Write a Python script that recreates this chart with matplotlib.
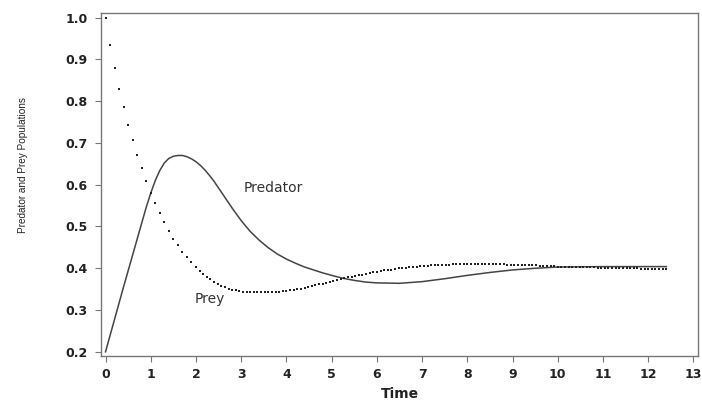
import matplotlib.pyplot as plt
import numpy as np

# prey: every 0.1 time units up to t = 1.9, then the solver steps get finer (~0.08)
prey_early = [1.000, 0.935, 0.879, 0.829, 0.785, 0.743, 0.706, 0.671, 0.640, 0.610,
              0.581, 0.557, 0.533, 0.510, 0.490, 0.471, 0.455, 0.440, 0.426, 0.414]
prey_late = [0.403, 0.394, 0.387, 0.380, 0.374, 0.368, 0.363, 0.358, 0.354, 0.351,
             0.349, 0.347, 0.345, 0.344, 0.343, 0.342, 0.342, 0.342, 0.342, 0.342,
             0.342, 0.343, 0.343, 0.344, 0.345, 0.346, 0.347, 0.348, 0.350, 0.351,
             0.353, 0.355, 0.357, 0.359, 0.362, 0.363, 0.365, 0.367, 0.369, 0.371,
             0.374, 0.376, 0.378, 0.380, 0.381, 0.383, 0.385, 0.387, 0.389, 0.390,
             0.392, 0.393, 0.395, 0.396, 0.397, 0.398, 0.400, 0.401, 0.401, 0.402,
             0.403, 0.404, 0.405, 0.405, 0.406, 0.407, 0.407, 0.408, 0.408, 0.409,
             0.409, 0.410, 0.410, 0.410, 0.410, 0.411,
             0.411, 0.411, 0.411, 0.411, 0.411, 0.410, 0.410, 0.410, 0.410, 0.410,
             0.409, 0.409,
             0.409, 0.409, 0.408, 0.408, 0.408, 0.407, 0.407, 0.406, 0.406, 0.405,
             0.405, 0.405, 0.404,
             0.404, 0.404, 0.404, 0.403, 0.403, 0.403, 0.403, 0.402, 0.402, 0.402,
             0.401, 0.401,
             0.401, 0.401, 0.401, 0.401, 0.400, 0.400, 0.400, 0.400, 0.400, 0.400,
             0.399, 0.399, 0.399,
             0.399, 0.399, 0.398, 0.398, 0.398]
prey_t = np.concatenate([np.linspace(0, 1.9, len(prey_early)),
                         np.linspace(2.0, 12.4, len(prey_late))])
prey = prey_early + prey_late

pred_t = [0.0, 0.2, 0.4, 0.6, 0.8, 0.9, 1.0, 1.1, 1.2, 1.3, 1.4, 1.5, 1.6, 1.7,
          1.8, 1.9, 2.0, 2.1, 2.2, 2.3, 2.4, 2.6, 2.8, 3.0, 3.2, 3.4, 3.6, 3.8,
          4.0, 4.2, 4.4, 4.6, 4.8, 5.0, 5.25, 5.5, 5.75, 6.0, 6.5, 7.0, 7.5, 8.0,
          8.5, 9.0, 9.5, 10.0, 11.0, 12.0, 12.4]
predator = [0.200, 0.278, 0.356, 0.432, 0.508, 0.546, 0.580, 0.610, 0.634, 0.652,
            0.663, 0.668, 0.670, 0.670, 0.667, 0.662, 0.655, 0.646, 0.635, 0.622,
            0.608, 0.576, 0.544, 0.514, 0.488, 0.467, 0.449, 0.434,
            0.422, 0.412, 0.403, 0.396, 0.389, 0.383, 0.376, 0.371, 0.367, 0.365,
            0.364, 0.368, 0.375, 0.383, 0.390, 0.396, 0.400, 0.403, 0.404, 0.404,
            0.404]

x_ticks = list(range(0, 14))
y_ticks = [0.2, 0.3, 0.4, 0.5, 0.6, 0.7, 0.8, 0.9, 1.0]

fig = plt.figure(figsize=(7.02, 4.01), dpi=100)
ax = fig.add_axes([101 / 702, 1 - 356 / 401, 597 / 702, 343 / 401])

ax.plot(pred_t, predator, color='#444444', linewidth=1.1)
ax.plot(prey_t, prey, linestyle='none', marker='s', markersize=1.7,
        color='#222222', markeredgewidth=0)

ax.set_xlim(-0.1, 13.1)
ax.set_ylim(0.19, 1.011)
ax.set_xticks(x_ticks)
ax.set_yticks(y_ticks)
ax.set_yticklabels(['%.1f' % v for v in y_ticks])

for s in ax.spines.values():
    s.set_color('#777777')
    s.set_linewidth(1.0)
ax.tick_params(direction='out', length=4.5, width=0.8, color='#777777',
               labelsize=9, labelcolor='#222222')
ax.tick_params(axis='y', pad=5)
ax.tick_params(axis='x', pad=4)
for lab in ax.get_xticklabels() + ax.get_yticklabels():
    lab.set_fontweight('bold')
    lab.set_family('DejaVu Sans')

ax.text(3.72, 0.592, 'Predator', ha='center', va='center', fontsize=10,
        family='DejaVu Sans', color='#333333')
ax.text(2.31, 0.326, 'Prey', ha='center', va='center', fontsize=10,
        family='DejaVu Sans', color='#333333')

fig.text(400 / 702, 1 - 394 / 401, 'Time', ha='center', va='center',
         fontsize=10, fontweight='bold', family='DejaVu Sans', color='#222222')
fig.text(23 / 702, 1 - 165 / 401, 'Predator and Prey Populations', rotation=90,
         ha='center', va='center', fontsize=7.2,
         family='Liberation Sans', color='#222222')

fig.savefig('out.png', dpi=100)
